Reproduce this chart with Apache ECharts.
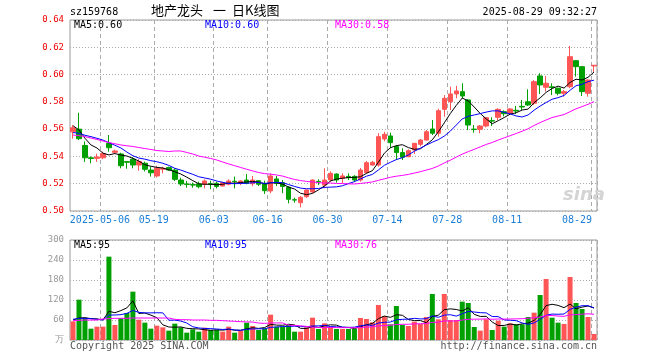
<!DOCTYPE html>
<html><head><meta charset="utf-8">
<script src="https://cdn.jsdelivr.net/npm/echarts@6/dist/echarts.min.js"></script>
<style>html,body{margin:0;padding:0;background:#fff}#c{width:660px;height:360px}</style>
</head><body><div id="c"></div>
<script>
const dates = [
'2025-04-24','2025-04-25','2025-04-28','2025-04-29','2025-04-30',
'2025-05-06','2025-05-07','2025-05-08','2025-05-09',
'2025-05-12','2025-05-13','2025-05-14','2025-05-15','2025-05-16',
'2025-05-19','2025-05-20','2025-05-21','2025-05-22','2025-05-23',
'2025-05-26','2025-05-27','2025-05-28','2025-05-29','2025-05-30',
'2025-06-03','2025-06-04','2025-06-05','2025-06-06',
'2025-06-09','2025-06-10','2025-06-11','2025-06-12','2025-06-13',
'2025-06-16','2025-06-17','2025-06-18','2025-06-19','2025-06-20',
'2025-06-23','2025-06-24','2025-06-25','2025-06-26','2025-06-27',
'2025-06-30','2025-07-01','2025-07-02','2025-07-03','2025-07-04',
'2025-07-07','2025-07-08','2025-07-09','2025-07-10','2025-07-11',
'2025-07-14','2025-07-15','2025-07-16','2025-07-17','2025-07-18',
'2025-07-21','2025-07-22','2025-07-23','2025-07-24','2025-07-25',
'2025-07-28','2025-07-29','2025-07-30','2025-07-31','2025-08-01',
'2025-08-04','2025-08-05','2025-08-06','2025-08-07','2025-08-08',
'2025-08-11','2025-08-12','2025-08-13','2025-08-14','2025-08-15',
'2025-08-18','2025-08-19','2025-08-20','2025-08-21','2025-08-22',
'2025-08-25','2025-08-26','2025-08-27','2025-08-28','2025-08-29'];

const opens = [0.558,0.560,0.548,0.539,0.5386,0.539,0.5496,0.543,0.5418,0.5362,
0.538,0.5337,0.535,0.530,0.5257,0.5306,0.5318,0.530,0.5227,0.5198,
0.5193,0.5198,0.5196,0.520,0.5203,0.5183,0.5196,0.5218,0.5203,0.5227,
0.520,0.5222,0.5203,0.5147,0.5235,0.5208,0.5174,0.5083,0.5061,0.5105,
0.514,0.5217,0.519,0.5227,0.5271,0.524,0.5254,0.5254,0.5227,0.5281,
0.5337,0.5337,0.5528,0.555,0.5472,0.5428,0.5398,0.5447,0.5489,0.552,
0.5601,0.557,0.5745,0.5801,0.5858,0.5875,0.5814,0.560,0.5599,0.5623,
0.5662,0.5687,0.5728,0.5716,0.5738,0.5767,0.5801,0.579,0.599,0.5907,
0.591,0.590,0.5863,0.5911,0.6102,0.6058,0.5863,0.6063];
const closes = [0.561,0.553,0.539,0.5385,0.5396,0.542,0.5464,0.544,0.5332,0.5357,
0.5337,0.5362,0.5306,0.528,0.5313,0.5313,0.530,0.5232,0.5198,0.5195,
0.519,0.5178,0.522,0.5196,0.518,0.5208,0.522,0.5215,0.522,0.5203,
0.5227,0.5196,0.5149,0.5257,0.5203,0.518,0.5086,0.508,0.510,0.5154,
0.5227,0.5214,0.5227,0.5276,0.5227,0.5257,0.5244,0.5227,0.530,0.5354,
0.5357,0.5545,0.5562,0.5501,0.5428,0.5394,0.5442,0.5496,0.552,0.5581,
0.557,0.5735,0.5826,0.5858,0.588,0.5843,0.563,0.5597,0.5623,0.5684,
0.5659,0.5745,0.5713,0.5748,0.5733,0.5762,0.5777,0.5948,0.5924,0.5936,
0.5905,0.5863,0.5875,0.6131,0.6058,0.5875,0.596,0.6068];
const lows = [0.553,0.552,0.536,0.535,0.536,0.538,0.5435,0.542,0.5313,0.531,
0.5313,0.5296,0.529,0.5252,0.5245,0.5276,0.5296,0.522,0.5183,0.5171,
0.5171,0.5166,0.5166,0.516,0.5166,0.518,0.5188,0.5166,0.519,0.5196,
0.5183,0.5183,0.5125,0.513,0.5183,0.513,0.5056,0.5061,0.5027,0.5096,
0.513,0.519,0.5166,0.5215,0.5208,0.5203,0.5227,0.5215,0.5215,0.5276,
0.5333,0.5325,0.5511,0.546,0.5374,0.5374,0.5394,0.5418,0.5474,0.5516,
0.5557,0.5545,0.5691,0.574,0.5826,0.5826,0.5594,0.5574,0.557,0.5613,
0.5623,0.5667,0.5694,0.5704,0.5711,0.574,0.577,0.5777,0.5858,0.5875,
0.585,0.5848,0.5838,0.590,0.5985,0.5843,0.5838,0.6015];
const highs = [0.563,0.572,0.551,0.540,0.542,0.5435,0.5557,0.545,0.5427,0.5362,
0.5394,0.538,0.5362,0.5325,0.5332,0.5325,0.5325,0.5313,0.5244,0.522,
0.5208,0.5215,0.5232,0.5222,0.5215,0.5215,0.5232,0.5252,0.5227,0.5271,
0.5257,0.5227,0.5222,0.5276,0.5257,0.5227,0.5183,0.5098,0.511,0.5157,
0.5232,0.5232,0.5313,0.529,0.5276,0.5276,0.5276,0.5262,0.5315,0.5367,
0.5367,0.557,0.5581,0.5574,0.5484,0.546,0.5452,0.5499,0.5528,0.5594,
0.5667,0.575,0.585,0.5911,0.5917,0.5936,0.5819,0.563,0.563,0.5689,
0.5687,0.5753,0.5738,0.5753,0.577,0.5814,0.5892,0.596,0.601,0.599,
0.5936,0.5904,0.5887,0.621,0.6102,0.6063,0.5965,0.6068];
const volumes = [56,121,66,34,40,40,250,45,66,81,
145,61,52,34,43,38,28,49,38,22,
32,25,37,30,30,25,40,22,28,52,
42,30,35,76,40,40,45,25,25,38,
67,33,50,40,33,33,33,33,66,63,
53,105,72,47,102,45,42,55,48,69,
138,62,138,60,60,115,111,39,28,62,
30,58,40,50,47,47,69,82,135,183,
67,52,48,189,111,93,69,18];

// moving-average values for the first days (before enough history is visible)
const ma5Head = [0.5625,0.5594,0.5533,0.5484];
const ma10Head = [0.5575,0.557,0.5555,0.5545,0.5533,0.552,0.550,0.5482,0.5462];
const ma30Head = [0.5557,0.5552,0.5545,0.5535,0.5524,0.5513,0.5502,0.5493,0.5484,0.5478,
0.5473,0.5465,0.5458,0.5451,0.5443,0.544,0.5436,0.544,0.544,0.5429,
0.5418,0.5403,0.5394,0.5385,0.5374,0.5359,0.5345,0.5332,0.5319];
const volMa5Head = [60,66,67,64];
const volMa10Head = [62,65,65,64,62,60,75,75,76];
const volMa30Head = [58,59,60,60,60,63,64,65,65,65,66,66,66,66,66,66,66,62,61,61,60,60,60,59,59,58,57,56,55];

const tickDates = ['2025-05-06','2025-05-19','2025-06-03','2025-06-16','2025-06-30','2025-07-14','2025-07-28','2025-08-11','2025-08-29'];
const tickLabels = ['2025-05-06','05-19','06-03','06-16','06-30','07-14','07-28','08-11','08-29'];
const priceTicks = {min:0.50, max:0.64, step:0.02};
const volTicks = {min:0, max:300, step:60};

function movingAvg(arr, n, head){
  return arr.map((v,i)=>{
    if(i < n-1) return head[i];
    let s=0; for(let k=i-n+1;k<=i;k++) s+=arr[k];
    return +(s/n).toFixed(4);
  });
}
const UP='#ff5555', DOWN='#00a000';
const kData = dates.map((d,i)=>[opens[i],closes[i],lows[i],highs[i]]);
const volData = volumes.map((v,i)=>({value:v, itemStyle:{color: closes[i]>=opens[i]?UP:DOWN}}));
const isTick = (idx, val) => tickDates.indexOf(val) >= 0;
const MONO = '"DejaVu Sans Mono", monospace';
const CJK = '"Noto Sans CJK SC"';

function xAxisCfg(grid, labels){
  return {
    type:'category', gridIndex:grid, data:dates, boundaryGap:true,
    axisLine:{show:false}, axisTick:{show:false},
    axisLabel:{show:labels, interval:isTick, margin:4, color:'#1c7ed6', fontSize:10, fontFamily:MONO,
      formatter:function(v){const k=tickDates.indexOf(v); const t=tickLabels[k];
        return k===tickDates.length-1 ? '{e|'+t+'}' : '{n|'+t+'}';},
      rich:{n:{padding:[0,6,0,0],color:'#1c7ed6',fontSize:10,fontFamily:MONO},
            e:{padding:[0,34,0,0],color:'#1c7ed6',fontSize:10,fontFamily:MONO}}},
    splitLine:{show:true, interval:isTick, lineStyle:{color:'#aaa', type:[4,3], width:1}}
  };
}
function line(name, data, color, xi){
  return {type:'line', name, data, xAxisIndex:xi, yAxisIndex:xi, showSymbol:false, symbol:'none',
    lineStyle:{color, width:1}, itemStyle:{color}, z:5, silent:true};
}

const chart = echarts.init(document.getElementById('c'), null, {renderer:'canvas'});
chart.setOption({
  animation:false, backgroundColor:'#fff',
  grid:[{left:70, top:20, width:527, height:191, show:true, borderColor:'#999', borderWidth:1},
        {left:70, top:240, width:527, height:100, show:true, borderColor:'#999', borderWidth:1}],
  xAxis:[xAxisCfg(0,true), xAxisCfg(1,false)],
  yAxis:[
    {type:'value', gridIndex:0, min:priceTicks.min, max:priceTicks.max, interval:priceTicks.step,
     axisLine:{show:false}, axisTick:{show:false},
     axisLabel:{color:'#ee0000', fontSize:9, fontFamily:MONO, margin:6, formatter:v=>v.toFixed(2)},
     splitLine:{lineStyle:{color:'#aaa', type:[1,2]}}},
    {type:'value', gridIndex:1, min:volTicks.min, max:volTicks.max, interval:volTicks.step,
     axisLine:{show:false}, axisTick:{show:false},
     axisLabel:{color:'#999', fontSize:9, fontFamily:MONO, margin:6, formatter:v=>v===0?'万':String(v)},
     splitLine:{lineStyle:{color:'#aaa', type:[1,2]}}}
  ],
  series:[
    {type:'candlestick', xAxisIndex:0, yAxisIndex:0, data:kData, barWidth:5,
     itemStyle:{color:UP, color0:DOWN, borderColor:UP, borderColor0:DOWN, borderWidth:1}, z:3},
    line('MA5', movingAvg(closes,5,ma5Head), '#000000', 0),
    line('MA10', movingAvg(closes,10,ma10Head), '#0000ff', 0),
    line('MA30', movingAvg(closes,30,ma30Head), '#ff00ff', 0),
    {type:'bar', xAxisIndex:1, yAxisIndex:1, data:volData, barWidth:5, z:3},
    line('VMA5', movingAvg(volumes,5,volMa5Head), '#000000', 1),
    line('VMA10', movingAvg(volumes,10,volMa10Head), '#0000ff', 1),
    line('VMA30', movingAvg(volumes,30,volMa30Head), '#ff00ff', 1)
  ],
  graphic:[
    {type:'text', left:70, top:7, style:{text:'sz159768', font:'10px '+MONO, fill:'#000'}},
    {type:'text', left:151, top:4, style:{text:'地产龙头', font:'13px '+CJK, fill:'#000'}},
    {type:'text', left:213, top:4, style:{text:'一', font:'13px '+CJK, fill:'#000'}},
    {type:'text', left:232, top:4, style:{text:'日K线图', font:'13px '+CJK, fill:'#000'}},
    {type:'text', right:63, top:7, style:{text:'2025-08-29 09:32:27', font:'10px '+MONO, fill:'#000'}},
    {type:'text', left:74, top:20, style:{text:'MA5:0.60', font:'10px '+MONO, fill:'#000'}, z:10},
    {type:'text', left:205, top:20, style:{text:'MA10:0.60', font:'10px '+MONO, fill:'#0000ff'}, z:10},
    {type:'text', left:335, top:20, style:{text:'MA30:0.58', font:'10px '+MONO, fill:'#ff00ff'}, z:10},
    {type:'text', left:74, top:240, style:{text:'MA5:95', font:'10px '+MONO, fill:'#000'}, z:10},
    {type:'text', left:205, top:240, style:{text:'MA10:95', font:'10px '+MONO, fill:'#0000ff'}, z:10},
    {type:'text', left:335, top:240, style:{text:'MA30:76', font:'10px '+MONO, fill:'#ff00ff'}, z:10},
    {type:'text', left:70, top:341, style:{text:'Copyright 2025 SINA.COM', font:'10px '+MONO, fill:'#555'}},
    {type:'text', right:63, top:341, style:{text:'http://finance.sina.com.cn', font:'10px '+MONO, fill:'#555'}},
    {type:'text', left:563, top:186, style:{text:'sina', font:'italic bold 18px "DejaVu Sans"', fill:'#d4d4d4'}, z:1}
  ]
});
</script></body></html>
